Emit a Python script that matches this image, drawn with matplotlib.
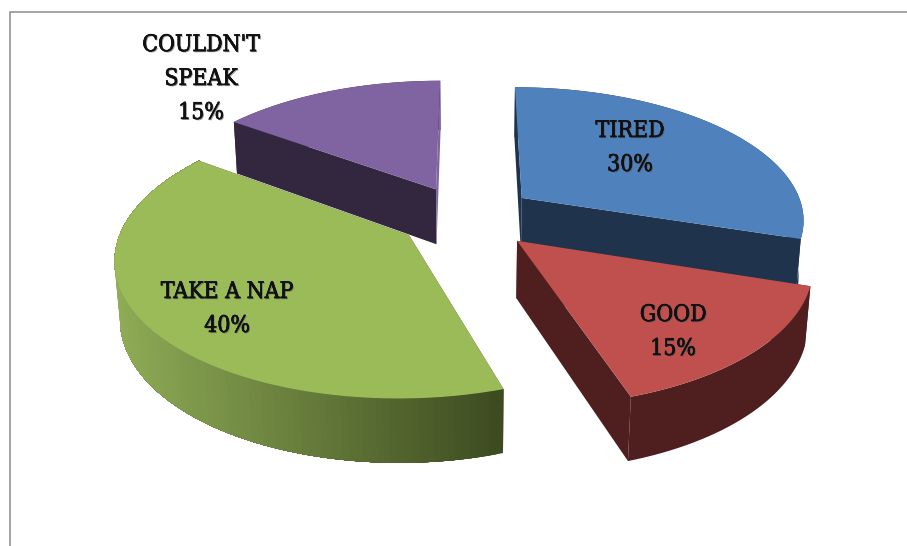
import numpy as np
import matplotlib
matplotlib.use("Agg")
import matplotlib.pyplot as plt
import matplotlib.patheffects as pe
from matplotlib.colors import to_rgb

# --- data ---
categories = ["TIRED", "GOOD", "TAKE A NAP", "COULDN'T\nSPEAK"]
shares = [30, 15, 40, 15]
percent_labels = ["30%", "15%", "40%", "15%"]

# --- style / layout ---
top_colors = ["#4F81BD", "#C0504D", "#9BBB59", "#8064A2"]
wall_colors = ["#1F344C", "#4E1F1E", None, "#33273F"]
start_face = ["#1F344C", "#4E1F1E", "#3F4E22", "#33273F"]
end_face = ["#1F344C", "#4E1F1E", "#3F4E22", "#8064A2"]
nap_grad = ("#8FAC56", "#3D4B20")
cx, cy, A, B, p, q, D = 469.0, 215.0, 283.0, 132.0, 0.15, 0.015, 57.0
offsets = [(0.190, -0.132), (0.165, 0.19), (-0.207, 0.15), (-0.120, -0.2)]
draw_order = [3, 0, 2, 1]
label_xy = [(630, 148), (673, 332), (227, 309), (201, 79)]


def project(X, Y, z=0.0):
    s = 1.0 / (1.0 - p * np.asarray(Y) + q * z)
    return cx + A * np.asarray(X) * s, cy + B * np.asarray(Y) * s + D * z * s


fig = plt.figure(figsize=(9.07, 5.46), dpi=100)
ax = fig.add_axes([0, 0, 1, 1])
ax.set_xlim(0, 907)
ax.set_ylim(546, 0)
ax.axis("off")

ax.plot([10, 10, 907], [546, 12, 12], color="#8c8c8c", lw=1.1, solid_joinstyle="miter")

edges = np.concatenate([[0], np.cumsum(shares)]) / np.sum(shares) * 2 * np.pi
for order, i in enumerate(draw_order):
    z = order + 1
    a0, a1 = edges[i], edges[i + 1]
    ox, oy = offsets[i]
    th = np.linspace(a0, a1, 120)
    X, Y = ox + np.sin(th), oy - np.cos(th)
    tx, ty = project(X, Y, 0)
    bx, by = project(X, Y, 1)
    ax0, ay0 = project(ox, oy, 0)
    bx0, by0 = project(ox, oy, 1)
    # radial face at the start angle
    ax.fill([ax0, tx[0], bx[0], bx0], [ay0, ty[0], by[0], by0],
            color=start_face[i], lw=0, zorder=z)
    # outer wall
    if wall_colors[i] is not None:
        ax.fill(np.r_[tx, bx[::-1]], np.r_[ty, by[::-1]], color=wall_colors[i], lw=0, zorder=z)
    else:
        c0, c1 = np.array(to_rgb(nap_grad[0])), np.array(to_rgb(nap_grad[1]))
        # paint overlapping pieces so no seams appear between gradient steps
        for k in range(len(th) - 1):
            f = (tx[k] - tx.min()) / (tx.max() - tx.min())
            ax.fill(np.r_[tx[k:], bx[k:][::-1]], np.r_[ty[k:], by[k:][::-1]],
                    color=tuple(c0 + (c1 - c0) * f), lw=0, zorder=z)
    # radial face at the end angle
    ax.fill([ax0, tx[-1], bx[-1], bx0], [ay0, ty[-1], by[-1], by0],
            color=end_face[i], lw=0, zorder=z)
    # top
    ax.fill(np.r_[ax0, tx], np.r_[ay0, ty], color=top_colors[i], lw=0, zorder=z)

effects = [pe.withSimplePatchShadow(offset=(0.8, -0.8), shadow_rgbFace="#555555", alpha=0.6),
           pe.Stroke(linewidth=0.4, foreground="#111111"), pe.Normal()]
for i, (x, y) in enumerate(label_xy):
    ax.text(x, y, categories[i] + "\n" + percent_labels[i], ha="center", va="center",
            family="DejaVu Serif", stretch="condensed", fontsize=16.5, linespacing=1.7,
            color="#111111", zorder=20, path_effects=effects)

fig.savefig("out.png", dpi=100)
